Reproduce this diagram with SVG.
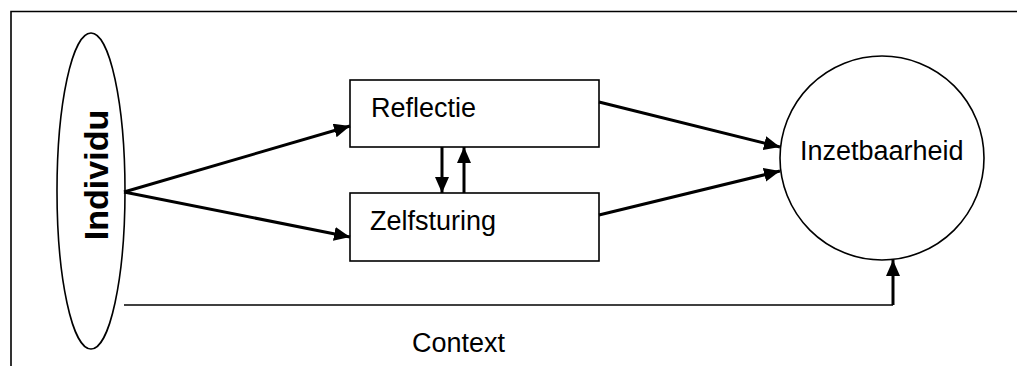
<svg xmlns="http://www.w3.org/2000/svg" width="1017" height="366" viewBox="0 0 1017 366">
  <style>
    .shape { fill: #ffffff; stroke: #000000; stroke-width: 1.6; }
    .frame { fill: none; stroke: #000000; stroke-width: 1.6; }
    .label { font-family: "Liberation Sans", Arial, sans-serif; font-size: 27px; fill: #000000; }
    .bold { font-weight: bold; font-size: 34px; }
    .link { fill: none; stroke: #000000; stroke-width: 3; }
    .thin { fill: none; stroke: #000000; stroke-width: 1.6; }
  </style>
  <defs>
    <marker id="arrow" markerUnits="userSpaceOnUse" markerWidth="18" markerHeight="16" refX="16" refY="7" orient="auto">
      <path d="M0,0 L16,7 L0,14 Z" fill="#000000"/>
    </marker>
  </defs>

  <!-- outer frame: top and left edges -->
  <path class="frame" d="M1017,11.5 H11 V366"/>

  <g id="individu">
    <ellipse class="shape" cx="91" cy="191" rx="34" ry="158"/>
    <text class="label bold" text-anchor="middle" transform="translate(108,175) rotate(-90)">Individu</text>
  </g>

  <g id="reflectie">
    <rect class="shape" x="350" y="80" width="249" height="67"/>
    <text class="label" x="371" y="117">Reflectie</text>
  </g>

  <g id="zelfsturing">
    <rect class="shape" x="350" y="193" width="249" height="68"/>
    <text class="label" x="370" y="230">Zelfsturing</text>
  </g>

  <g id="inzetbaarheid">
    <circle class="shape" cx="882" cy="158" r="102"/>
    <text class="label" x="800" y="160">Inzetbaarheid</text>
  </g>

  <g id="context">
    <text class="label" x="412" y="352">Context</text>
  </g>

  <g id="connectors">
    <line class="link" x1="124" y1="192" x2="350" y2="126" marker-end="url(#arrow)"/>
    <line class="link" x1="124" y1="192" x2="350" y2="237" marker-end="url(#arrow)"/>
    <line class="link" x1="442" y1="147" x2="442" y2="193" marker-end="url(#arrow)"/>
    <line class="link" x1="464" y1="193" x2="464" y2="147" marker-end="url(#arrow)"/>
    <line class="link" x1="599" y1="102" x2="780" y2="147" marker-end="url(#arrow)"/>
    <line class="link" x1="599" y1="215" x2="780" y2="171" marker-end="url(#arrow)"/>
    <polyline class="thin" points="124,305 893,305"/>
    <line class="link" x1="893" y1="305" x2="893" y2="260" marker-end="url(#arrow)"/>
  </g>
</svg>
